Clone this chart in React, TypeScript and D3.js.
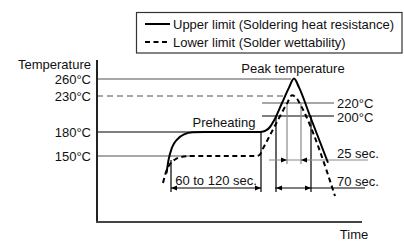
import * as d3 from 'd3';
import React from "react";

// schematic reflow profile: time in arbitrary units, temperature in °C
const tempTicks = [260, 230, 180, 150];
const sideTemps = [220, 200];

const upperCurve: [number, number][] = [
    [69.5, 129], [71.5, 145], [75, 160.6], [80, 170.6], [87, 177.1], [96, 179.6],
    [108, 180], [161, 180], [165, 180.25], [169, 181.9], [173, 186.25], [177, 194.25],
    [185, 220], [192, 244.8], [197, 260.7], [202, 245.2], [213, 200], [231, 141.8],
];

const lowerCurve: [number, number][] = [
    [66, 117.3], [69, 130.6], [73, 140.3], [78, 145.8], [84, 148.8], [93, 149.9],
    [103, 150], [159, 150], [162.5, 151.25], [166, 159.4], [181, 195], [190, 219.4],
    [195, 231.2], [200.5, 225], [204, 215.8], [238, 101.5],
];

// reference lines: temperature, start time, end time
const refLines = [
    { temp: 260, from: 0, to: 194, kind: 'gray' },
    { temp: 230, from: 0, to: 188, kind: 'dash' },
    { temp: 180, from: 0, to: 108, kind: 'black' },
    { temp: 150, from: 0, to: 93, kind: 'gray' },
    { temp: 220, from: 165, to: 237, kind: 'gray' },
    { temp: 200, from: 165, to: 237, kind: 'black' },
];

const spanLabels = ['60 to 120 sec.', '70 sec.', '25 sec.'];
const spanFrom = [74, 179, 190];
const spanTo = [164, 214, 204];
const spanTop = [145, 200, 220];

const legendLabels = ['Upper limit (Soldering heat resistance)', 'Lower limit (Solder wettability)'];

const W = 404;
const H = 242;
const font = '"Liberation Sans", Arial, sans-serif';
const GRAY = '#8a8a8a';

const App: React.FC = () => {
    const x = d3.scaleLinear().domain([0, 265]).range([97, 362]);
    const y = d3.scaleLinear()
        .domain([70, 150, 180, 200, 220, 230, 260, 287])
        .range([222, 156, 132, 116, 103, 96, 79, 60]);

    const line = d3.line<[number, number]>()
        .x(d => x(d[0]))
        .y(d => y(d[1]))
        .curve(d3.curveMonotoneX);

    const arrow = (px: number, py: number, dir: number) =>
        `M${px},${py}L${px - dir * 6},${py - 2.6}L${px - dir * 6},${py + 2.6}Z`;

    // rows for the dimension lines
    const rowY = [188, 188, 160];
    const rowExtent: [number, number][] = [
        [x(spanFrom[0]), x(spanTo[0])],
        [x(spanFrom[1]) - 1, 365],
        [269, 368],
    ];
    const rowColor = ['#000', '#000', GRAY];
    const labelPos: [number, number, string][] = [
        [(x(spanFrom[0]) + x(spanTo[0])) / 2, 180, 'middle'],
        [337, 181, 'start'],
        [337, 153, 'start'],
    ];

    return (
        <svg width={W} height={H} style={{ position: 'absolute', left: 0, top: 0, background: '#fff' }}
            fontFamily={font} fontSize={13} fill="#111">
            {/* legend */}
            <rect x={136.5} y={12.5} width={265.5} height={40.5} fill="none" stroke="#333" strokeWidth={1.2} />
            <line x1={145} x2={170} y1={24} y2={24} stroke="#000" strokeWidth={2} />
            <line x1={145} x2={170} y1={42} y2={42} stroke="#000" strokeWidth={2} strokeDasharray="5,3.5" />
            {legendLabels.map((l, i) => (
                <text key={l} x={173} y={24 + i * 18} dy="0.35em">{l}</text>
            ))}

            {/* reference lines */}
            {refLines.map(r => (
                <line key={r.temp} x1={x(r.from)} x2={x(r.to)} y1={y(r.temp)} y2={y(r.temp)}
                    stroke={r.kind === 'black' ? '#000' : GRAY}
                    strokeWidth={r.kind === 'black' ? 1.2 : 1.5}
                    strokeDasharray={r.kind === 'dash' ? '6,4' : undefined} />
            ))}

            {/* span verticals */}
            {spanFrom.map((f, i) => {
                const col = i === 2 ? GRAY : '#000';
                const bottom = rowY[i] + 4;
                const topL = i === 0 ? 160 : y(spanTop[i]);
                const topR = i === 0 ? y(180) : y(spanTop[i]);
                return (
                    <g key={i} stroke={col} strokeWidth={1.2}>
                        <line x1={x(f)} x2={x(f)} y1={topL} y2={bottom} />
                        <line x1={x(spanTo[i])} x2={x(spanTo[i])} y1={topR} y2={bottom} />
                    </g>
                );
            })}

            {/* dimension rows */}
            {rowY.map((ry, i) => {
                const a = x(spanFrom[i]);
                const b = x(spanTo[i]);
                const inward = i === 2;
                return (
                    <g key={i}>
                        <line x1={rowExtent[i][0]} x2={rowExtent[i][1]} y1={ry} y2={ry}
                            stroke={rowColor[i]} strokeWidth={1.2} />
                        <path d={inward ? arrow(a, ry, 1) : arrow(a, ry, -1)} fill="#000" />
                        <path d={inward ? arrow(b, ry, -1) : arrow(b, ry, 1)} fill="#000" />
                        <text x={labelPos[i][0]} y={labelPos[i][1]} dy="0.35em"
                            textAnchor={labelPos[i][2] as any}>{spanLabels[i]}</text>
                    </g>
                );
            })}

            {/* profiles */}
            <path d={line(upperCurve) ?? ''} fill="none" stroke="#000" strokeWidth={2} />
            <path d={line(lowerCurve) ?? ''} fill="none" stroke="#000" strokeWidth={2} strokeDasharray="5,3.5" />

            {/* axes */}
            <line x1={x(0)} x2={x(0)} y1={60} y2={y(70)} stroke="#222" strokeWidth={2} />
            <line x1={x(0) - 1} x2={x(265)} y1={y(70)} y2={y(70)} stroke="#444" strokeWidth={2} />

            {tempTicks.map(t => (
                <text key={t} x={91} y={y(t)} dy="0.35em" textAnchor="end">{`${t}°C`}</text>
            ))}
            {sideTemps.map(t => (
                <text key={t} x={337} y={y(t) + (t === 200 ? 1 : 0)} dy="0.35em">{`${t}°C`}</text>
            ))}

            <text x={91} y={64} dy="0.35em" textAnchor="end">Temperature</text>
            <text x={354} y={234} dy="0.35em" textAnchor="middle">Time</text>
            <text x={293} y={68} dy="0.35em" textAnchor="middle">Peak temperature</text>
            <text x={224} y={122} dy="0.35em" textAnchor="middle">Preheating</text>
        </svg>
    );
};

export default App;
